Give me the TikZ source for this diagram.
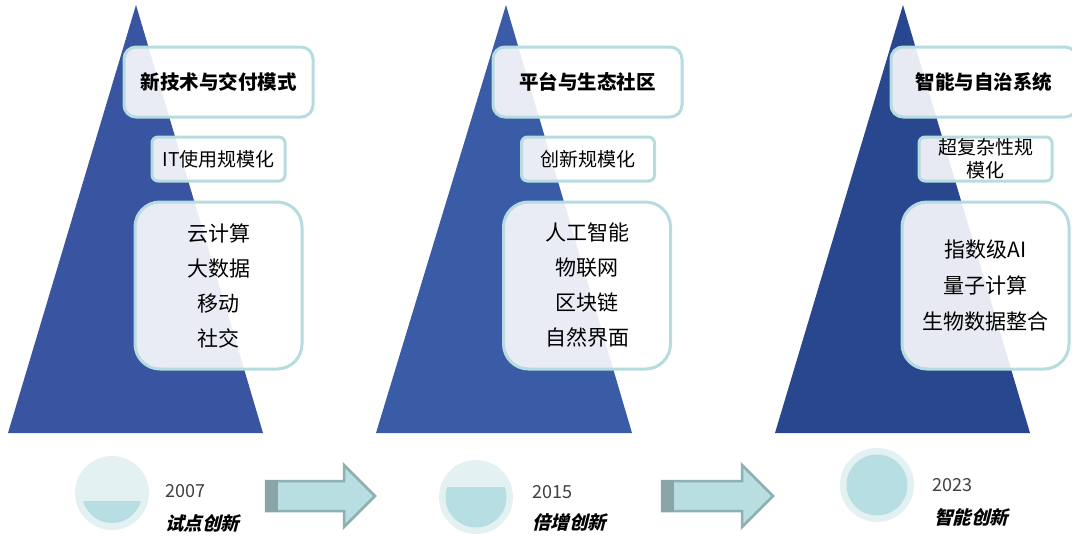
\documentclass[tikz,border=0pt]{standalone}
\usepackage{fontspec}
\setmainfont{Noto Sans CJK SC}
\newfontfamily\slantfont{Noto Sans CJK SC}[FakeSlant=0.25]
\definecolor{triA}{HTML}{3954A0}
\definecolor{triB}{HTML}{3A5BA6}
\definecolor{triC}{HTML}{28478E}
\definecolor{boxline}{HTML}{B6DCE0}
\definecolor{circout}{HTML}{E4F1F3}
\definecolor{circin}{HTML}{B7DEE2}
\definecolor{arrfill}{HTML}{B8DEE1}
\definecolor{arrline}{HTML}{8FAFB0}
\definecolor{arrdark}{HTML}{8AA5A7}
\definecolor{yeargray}{HTML}{404040}
\begin{document}
\begin{tikzpicture}[x=1pt,y=-1pt,
  basebox/.style={draw=boxline, line width=3pt, fill=white, fill opacity=0.89, text opacity=1, inner sep=0pt, align=center},
  titlebox/.style={basebox, rounded corners=12pt, minimum width=189pt, minimum height=70pt, font=\bfseries\fontsize{19.5}{22}\selectfont},
  subbox/.style={basebox, rounded corners=6pt, minimum width=133pt, minimum height=44pt, font=\fontsize{19}{23}\selectfont},
  bigbox/.style={basebox, rounded corners=25pt, minimum width=167pt, minimum height=167pt, font=\fontsize{21}{35}\selectfont},
  yearlbl/.style={anchor=west, inner sep=0pt, text=yeargray, font=\fontsize{18}{20}\selectfont},
  phaselbl/.style={anchor=west, inner sep=0pt, font=\slantfont\bfseries\fontsize{18.5}{20}\selectfont},
  blockarrow/.style={fill=arrfill, draw=arrline, line width=2.5pt, line join=miter}
]
\useasboundingbox (0,0) rectangle (1072,536);
\clip (0,0) rectangle (1072,536);
\fill[white] (0,0) rectangle (1072,536);

% triangles
\fill[triA] (136,5) -- (263,433) -- (8,433) -- cycle;
\fill[triB] (506,5) -- (632,433) -- (376,433) -- cycle;
\fill[triC] (903,5) -- (1030,433) -- (775,433) -- cycle;

% column 1
\node[titlebox] (t1) at (218.5,82) {新技术与交付模式};
\node[subbox] (s1) at (218.5,159) {IT使用规模化};
\node[bigbox] (b1) at (218.5,285.5) {云计算\\大数据\\移动\\社交};

% column 2
\node[titlebox] (t2) at (587.5,82) {平台与生态社区};
\node[subbox] (s2) at (588,159) {创新规模化};
\node[bigbox] (b2) at (587,285.5) {人工智能\\物联网\\区块链\\自然界面};

% column 3
\node[titlebox, minimum width=186pt] (t3) at (984,82) {智能与自治系统};
\node[subbox] (s3) at (985.5,159) {超复杂性规\\模化};
\node[bigbox, font=\fontsize{21}{36}\selectfont] (b3) at (985.5,285.5) {指数级AI\\量子计算\\生物数据整合};

% circles
\fill[circout] (112,493) circle (37);
\begin{scope}
  \clip (112,493) circle (30);
  \fill[circin] (60,501) rectangle (165,530);
\end{scope}
\fill[circout] (476,497) circle (37);
\begin{scope}
  \clip (476,497) circle (30.5);
  \fill[circin] (420,487) rectangle (535,535);
\end{scope}
\fill[circout] (877,485) circle (37);
\fill[circin] (877,485) circle (30.5);

% labels
\node[yearlbl] (y1) at (165,491) {2007};
\node[phaselbl] (p1) at (165,523) {试点创新};
\node[yearlbl] (y2) at (532,492) {2015};
\node[phaselbl] (p2) at (532,522) {倍增创新};
\node[yearlbl] (y3) at (932,485) {2023};
\node[phaselbl] (p3) at (934,517) {智能创新};

% block arrows
\draw[blockarrow] (266,481) -- (344,481) -- (344,465) -- (375,496) -- (344,527) -- (344,511) -- (266,511) -- cycle;
\fill[arrdark] (264.8,479.8) rectangle (278,512.2);
\draw[blockarrow] (662,481) -- (742,481) -- (742,465) -- (773,496) -- (742,527) -- (742,511) -- (662,511) -- cycle;
\fill[arrdark] (660.8,479.8) rectangle (674,512.2);
\end{tikzpicture}
\end{document}
